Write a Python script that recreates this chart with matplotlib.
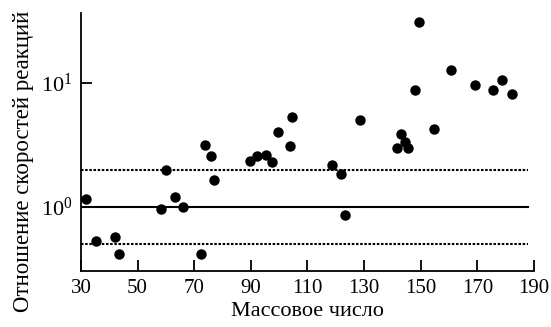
import numpy as np
import matplotlib
matplotlib.use('Agg')
import matplotlib.pyplot as plt
from matplotlib.ticker import FixedLocator, NullLocator, FuncFormatter

# mass number vs. reaction rate ratio
mass_number = [31.8, 35.3, 41.9, 43.4, 58.2, 60.2, 63.1, 65.9, 72.5, 73.7,
               75.9, 76.9, 89.6, 92.1, 95.3, 97.3, 99.6, 103.8, 104.7, 118.5,
               121.7, 123.2, 128.7, 141.8, 143.2, 144.3, 145.6, 147.9, 149.4, 154.8,
               160.6, 169.3, 175.5, 178.6, 182.4]
rate_ratio = [1.17, 0.53, 0.577, 0.42, 0.97, 1.98, 1.2, 1.0, 0.42, 3.15,
              2.57, 1.66, 2.34, 2.57, 2.64, 2.30, 4.03, 3.11, 5.27, 2.18,
              1.84, 0.87, 5.01, 3.0, 3.87, 3.35, 2.97, 8.74, 30.6, 4.22,
              12.65, 9.53, 8.74, 10.6, 8.16]

ref_level = 1.0
band_levels = [2.0, 0.5]
x_ticks = [30, 50, 70, 90, 110, 130, 150, 170, 190]
y_ticks = [1, 10]

plt.rcParams['font.family'] = ['Liberation Serif', 'DejaVu Serif']
plt.rcParams['mathtext.fontset'] = 'custom'
plt.rcParams['mathtext.rm'] = 'Liberation Serif'
plt.rcParams['mathtext.it'] = 'Liberation Serif:italic'


def main():
    fig = plt.figure(figsize=(5.51, 3.27), dpi=100)
    ax = fig.add_axes([0.147, 0.172, 0.822, 0.789])

    ax.plot([30, 188], [ref_level, ref_level], color='black', lw=1.5)
    for lvl in band_levels:
        ax.plot([30, 188], [lvl, lvl], color='black', lw=1.5,
                linestyle=(0, (1.2, 0.8)))
    ax.plot(mass_number, rate_ratio, 'o', color='black', markersize=7.5,
            markeredgewidth=0, zorder=3)

    ax.set_yscale('log')
    ax.set_xlim(30, 190)
    ax.set_ylim(0.307, 36.6)

    ax.xaxis.set_major_locator(FixedLocator(x_ticks))
    ax.yaxis.set_major_locator(FixedLocator(y_ticks))
    ax.yaxis.set_minor_locator(NullLocator())
    ax.yaxis.set_major_formatter(
        FuncFormatter(lambda v, p: r'$10^{%d}$' % int(round(np.log10(v)))))

    for side in ['top', 'right']:
        ax.spines[side].set_visible(False)
    for side in ['left', 'bottom']:
        ax.spines[side].set_linewidth(1.3)
    ax.tick_params(direction='in', length=8, width=1.3, labelsize=15, pad=6)
    ax.tick_params(axis='y', labelsize=16)

    ax.set_xlabel('Массовое число', fontsize=16, labelpad=3)
    ax.set_ylabel('Отношение скоростей реакций', fontsize=16.5,
                  va='center', ha='center')
    # label sits a little below the axis midpoint
    ax.yaxis.set_label_coords(-0.128, 0.425)

    fig.savefig('out.png', dpi=100)


if __name__ == '__main__':
    main()
